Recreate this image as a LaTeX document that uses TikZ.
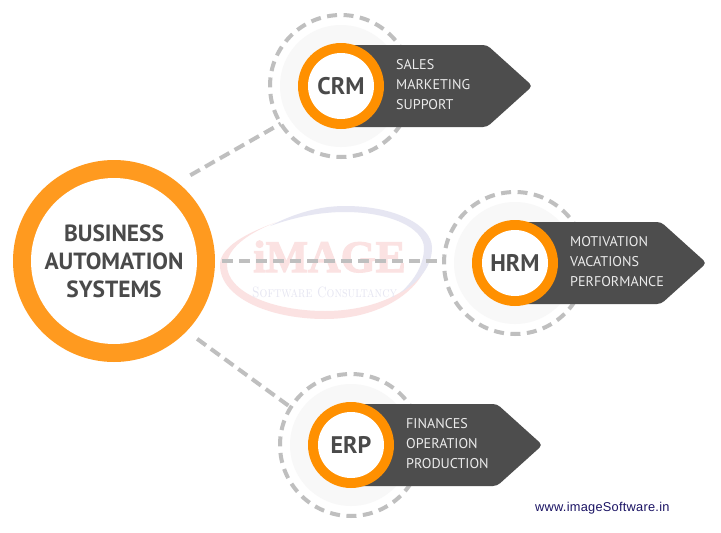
\documentclass[tikz,border=0pt]{standalone}
\usepackage{fontspec}
\newfontfamily\ptfont{PT Sans}
\newfontfamily\urlfont[LetterSpace=2]{Liberation Sans}
\newfontfamily\wmfont[FakeBold=2.5]{Liberation Serif}
\usetikzlibrary{calc}
\definecolor{ringmain}{HTML}{FF9A1F}
\definecolor{ringsmall}{HTML}{FF9000}
\definecolor{dashgrey}{HTML}{BFBFBF}
\definecolor{haloc}{HTML}{F8F8F8}
\definecolor{panelc}{HTML}{4D4D4D}
\definecolor{inkc}{HTML}{4A4A4A}
\definecolor{wmpink}{HTML}{FBE2E2}
\definecolor{wmlav}{HTML}{E6E6F2}
\definecolor{urlc}{HTML}{1B1464}
\tikzset{
  disc/.style={circle,inner sep=0pt,outer sep=0pt},
  dashline/.style={draw=dashgrey,line width=4pt,dash pattern=on 11pt off 6pt},
  dashring/.style={disc,draw=dashgrey,line width=4pt,dash pattern=on 10pt off 6.5pt,minimum size=142pt},
  halo/.style={disc,fill=haloc,minimum size=122pt},
  panel/.style={fill=panelc,rounded corners=4pt},
  smallring/.style={disc,fill=ringsmall,minimum size=86pt},
  smallface/.style={disc,fill=white,minimum size=66pt,text=inkc,font=\ptfont\bfseries\fontsize{24}{24}\selectfont},
  items/.style={anchor=west,inner sep=0pt,align=left,text=white!92!black,font=\ptfont\fontsize{14.1}{20}\selectfont},
  mainface/.style={disc,fill=white,minimum size=166pt,align=center,text=inkc,font=\ptfont\bfseries\fontsize{23.4}{28}\selectfont}
}
\newcommand{\unitblock}[7]{%
  \node[halo] (#1halo) at (#2,#3) {};
  \node[dashring] (#1ring) at (#2,#3) {};
  \fill[panel] (#2,#3-41) -- (#2+146,#3-41) -- (#2+191.5,#3) -- (#2+146,#3+41) -- (#2,#3+41) -- cycle;
  \node[smallring] (#1disc) at (#2,#3) {};
  \node[smallface] (#1) at (#2,#3) {#4};
  \node[items] (#1items) at (#2+55,#3-1.5) {#5\\#6\\#7};
}
\begin{document}
\begin{tikzpicture}[x=1pt,y=-1pt]
\useasboundingbox (0,0) rectangle (721,533);
\fill[white] (0,0) rectangle (721,533);
% watermark
\fill[wmpink] (277,222) .. controls (238,236) and (220,250) .. (220,265)
  .. controls (220,298) and (270,319) .. (325,319)
  .. controls (370,319) and (408,300) .. (423,273)
  .. controls (405,296) and (368,311) .. (325,311)
  .. controls (272,311) and (227,292) .. (227,265)
  .. controls (227,250) and (245,234) .. (277,222) -- cycle;
\fill[wmlav] (270,226) .. controls (295,213) and (320,206) .. (345,206)
  .. controls (395,206) and (432,225) .. (432,248)
  .. controls (432,265) and (420,282) .. (400,293)
  .. controls (415,280) and (424,264) .. (424,248)
  .. controls (424,228) and (390,212) .. (345,212)
  .. controls (320,212) and (295,217) .. (270,226) -- cycle;
\node[anchor=base west,inner sep=0pt,text=wmpink] (wmname) at (253,272)
  {\wmfont\bfseries\fontsize{45}{45}\selectfont iMAGE};
\node[anchor=base west,inner sep=0pt,text=wmlav] (wmsub) at (252,297)
  {\scalebox{0.82}[1]{\scshape\fontsize{15}{15}\selectfont Software Consultancy}};
% main circle
\node[disc,fill=ringmain,minimum size=202pt] (main) at (114,261) {};
\node[mainface] (maintext) at (114,261) {BUSINESS\\AUTOMATION\\SYSTEMS};
% units
\unitblock{crm}{341}{86}{CRM}{SALES}{MARKETING}{SUPPORT}
\unitblock{hrm}{515}{263}{HRM}{MOTIVATION}{VACATIONS}{PERFORMANCE}
\unitblock{erp}{351}{445}{ERP}{FINANCES}{OPERATION}{PRODUCTION}
% connectors
\draw[dashline,shorten <=14.7pt] (main.51.3) -- (crmring.212.6);
\draw[dashline,shorten <=7pt] (main.east) -- (main.east -| hrmring.west);
\draw[dashline,shorten <=13pt] (main.-44.6) -- (erpring.148.4);
% url
\node[anchor=base west,inner sep=0pt,text=urlc] (url) at (535,511)
  {\urlfont\fontsize{12.8}{12.8}\selectfont www.imageSoftware.in};
\end{tikzpicture}
\end{document}
